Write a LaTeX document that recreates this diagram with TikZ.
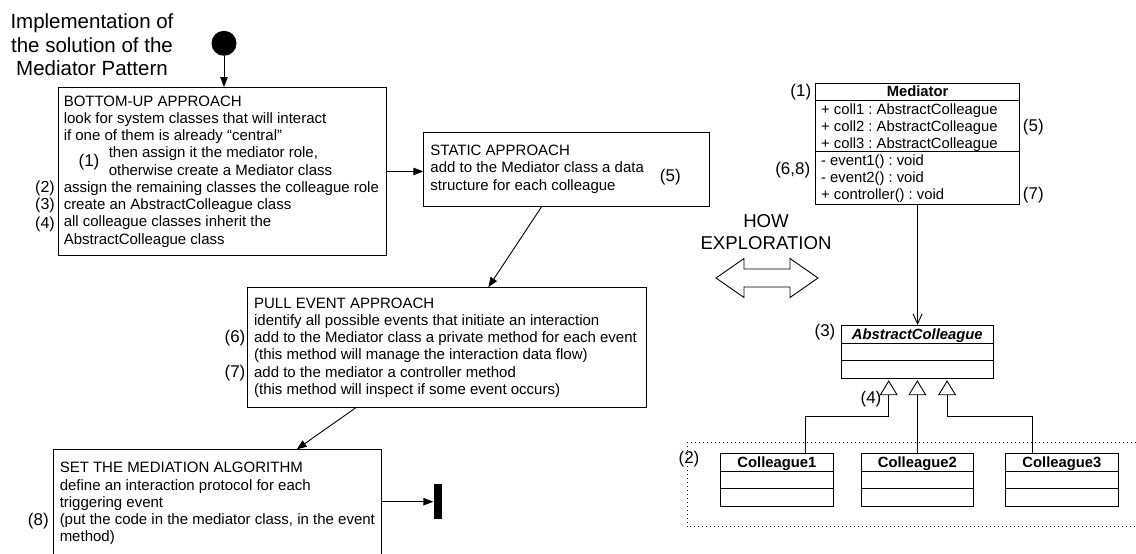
\documentclass[tikz,border=0pt]{standalone}
\usepackage{fontspec}
\setmainfont{Liberation Sans}
\usetikzlibrary{arrows.meta,calc}
\frenchspacing

% font sizes (1pt = one unit of the drawing)
\newcommand\dgTitle{\fontsize{20.5}{23.5}\selectfont}
\newcommand\dgBox{\fontsize{15}{17.25}\selectfont}
\newcommand\dgUml{\fontsize{14.8}{17}\selectfont}
\newcommand\dgNum{\fontsize{17}{19.5}\selectfont}
\newcommand\dgNumS{\fontsize{16}{18.4}\selectfont}
\newcommand\dgHow{\fontsize{18.6}{22}\selectfont}

\begin{document}
\begin{tikzpicture}[x=1pt, y=-1pt, line width=0.9pt,
  stepbox/.style={draw, rectangle, inner sep=0pt, anchor=north west},
  steptext/.style={anchor=west, align=left, inner sep=0pt, font=\dgBox},
  numlabel/.style={inner sep=0pt, font=\dgNum},
  numlabelsmall/.style={inner sep=0pt, font=\dgNumS},
  flow/.style={-{Triangle[length=10pt,width=7.5pt]}},
  umlbox/.style={draw, rectangle, inner sep=0pt, anchor=north west},
  umltext/.style={inner sep=0pt, anchor=base west, font=\dgUml},
  umlhead/.style={inner sep=0pt, anchor=base, font=\dgUml\bfseries},
  assoc/.style={-{Straight Barb[length=10pt,width=9pt]}},
  gen/.style={-{Triangle[open,length=15pt,width=18pt]}},
  colleague/.style={umlbox, minimum width=112.4pt, minimum height=52.4pt}
]
\useasboundingbox (0,0) rectangle (1136,554);
\clip (0,0) rectangle (1136,554);

% ---------------- activity flow ----------------
\node[align=center, font=\dgTitle, inner sep=0pt, anchor=north] (title) at (92,13.3)
  {Implementation of\\the solution of the\\Mediator Pattern};

\node[circle, fill=black, minimum size=25pt, inner sep=0pt] (start) at (224,43.3) {};

\node[stepbox, minimum width=327.4pt, minimum height=168pt] (bu) at (58.3,87) {};
\node[steptext] (butext) at ([xshift=5pt]bu.west) {BOTTOM-UP APPROACH\\
look for system classes that will interact\\
if one of them is already “central”\\
\hspace*{45pt}then assign it the mediator role,\\
\hspace*{45pt}otherwise create a Mediator class\\
assign the remaining classes the colleague role\\
create an AbstractColleague class\\
all colleague classes inherit the\\
AbstractColleague class};
\node[numlabel] (n1) at (89,161.7) {(1)};
\node[numlabelsmall] (n2) at (45,188.5) {(2)};
\node[numlabelsmall] (n3) at (45,205.8) {(3)};
\node[numlabelsmall] (n4) at (45,224.5) {(4)};

\node[stepbox, minimum width=286pt, minimum height=74pt] (st) at (423.3,131.7) {};
\node[steptext] (sttext) at ([xshift=6.7pt]st.west) {STATIC APPROACH\\
add to the Mediator class a data\\
structure for each colleague};
\node[numlabel] (n5a) at (670.3,176.7) {(5)};

\node[stepbox, minimum width=399pt, minimum height=119.4pt] (pe) at (247,287.3) {};
\node[steptext] (petext) at ([xshift=6.7pt]pe.west) {PULL EVENT APPROACH\\
identify all possible events that initiate an interaction\\
add to the Mediator class a private method for each event\\
(this method will manage the interaction data flow)\\
add to the mediator a controller method\\
(this method will inspect if some event occurs)};
\node[numlabel] (n6) at (235,338) {(6)};
\node[numlabel] (n7) at (235,372.8) {(7)};

\node[stepbox, minimum width=328.3pt, minimum height=108pt] (sm) at (52.7,449.3) {};
\node[steptext] (smtext) at ([xshift=6.6pt]sm.west) {SET THE MEDIATION ALGORITHM\\
define an interaction protocol for each\\
triggering event\\
(put the code in the mediator class, in the event\\
method)};
\node[numlabel] (n8) at (38.3,521) {(8)};

\node[fill=black, minimum width=8.5pt, minimum height=35pt, inner sep=0pt] (stop) at (438,501.7) {};

\draw[flow] (start.south) -- (start.south |- bu.north);
\draw[flow] (bu.east) -- (bu.east -| st.west);
\draw[flow] ([xshift=118.4pt]st.south west) -- ([xshift=241.3pt]pe.north west);
\draw[flow] ([xshift=109pt]pe.south west) -- ([xshift=244pt]sm.north west);
\draw[flow] (stop.west -| sm.east) -- (stop.west);

% ---------------- exploration ----------------
\node[align=center, font=\dgHow, inner sep=0pt] (how) at (766,231.7) {HOW\\EXPLORATION};
\draw (716,278) -- (744,258.5) -- (744,269) -- (790,269) -- (790,258.5) -- (818,278)
  -- (790,297.5) -- (790,287) -- (744,287) -- (744,297.5) -- cycle;

% ---------------- class diagram ----------------
\node[umlbox, minimum width=204.3pt, minimum height=120.2pt] (med) at (815,83.3) {};
\draw ([yshift=-16.7pt]med.north west) -- ([yshift=-16.7pt]med.north east);
\draw ([yshift=-67.7pt]med.north west) -- ([yshift=-67.7pt]med.north east);
\node[umlhead] (medname) at ($(med.north)+(0,13.2)$) {Mediator};
\node[umltext] (att1) at (820.7,114.5) {+ coll1 : AbstractColleague};
\node[umltext] (att2) at (820.7,131.5) {+ coll2 : AbstractColleague};
\node[umltext] (att3) at (820.7,148.5) {+ coll3 : AbstractColleague};
\node[umltext] (op1) at (820.7,165.5) {- event1() : void};
\node[umltext] (op2) at (820.7,182.5) {- event2() : void};
\node[umltext] (op3) at (820.7,199.5) {+ controller() : void};
\node[numlabel] (m1) at (800.8,91.7) {(1)};
\node[numlabel] (m68) at (792.8,170) {(6,8)};
\node[numlabel] (m5) at (1033.3,126.7) {(5)};
\node[numlabel] (m7) at (1033.3,195) {(7)};

\node[umlbox, minimum width=151.7pt, minimum height=52.7pt] (ac) at (841,325) {};
\draw ([yshift=-18pt]ac.north west) -- ([yshift=-18pt]ac.north east);
\draw ([yshift=-35.3pt]ac.north west) -- ([yshift=-35.3pt]ac.north east);
\node[umlhead, font=\dgUml\bfseries\itshape] (acname) at ($(ac.north)+(0,14.5)$) {AbstractColleague};
\node[numlabel] (m3) at (825,332) {(3)};
\node[numlabel] (m4) at (871,399) {(4)};

\draw[assoc] (med.south) -- (med.south |- ac.north);

\draw[dash pattern=on 1.2pt off 2.8pt] (1140,442.3) -- (687.3,442.3) -- (687.3,526.7) -- (1140,526.7);
\node[numlabel] (m2) at (689,459.3) {(2)};

\node[colleague] (c1) at (720.3,453.3) {};
\node[colleague] (c2) at (860.7,453.3) {};
\node[colleague] (c3) at (1005.3,453.3) {};
\foreach \c/\t in {c1/Colleague1, c2/Colleague2, c3/Colleague3} {
  \draw ([yshift=-18pt]\c.north west) -- ([yshift=-18pt]\c.north east);
  \draw ([yshift=-35.4pt]\c.north west) -- ([yshift=-35.4pt]\c.north east);
  \node[umlhead] (\c name) at ($(\c.north)+(0,14.3)$) {\t};
}

% generalization connectors
\coordinate (t1) at ($(ac.south)+(-28.6,1.6)$);
\coordinate (t2) at ($(ac.south)+(0,1.6)$);
\coordinate (t3) at ($(ac.south)+(29.8,1.6)$);
\coordinate (j1) at ($(t1)+(0,36.4)$);
\coordinate (j3) at ($(t3)+(0,36.4)$);
\draw[gen] ([xshift=85.4pt]c1.north west) |- (j1) -- (t1);
\draw[gen] (c2.north) -- (c2.north |- t2);
\draw[gen] ([xshift=26.7pt]c3.north west) |- (j3) -- (t3);

\end{tikzpicture}
\end{document}
